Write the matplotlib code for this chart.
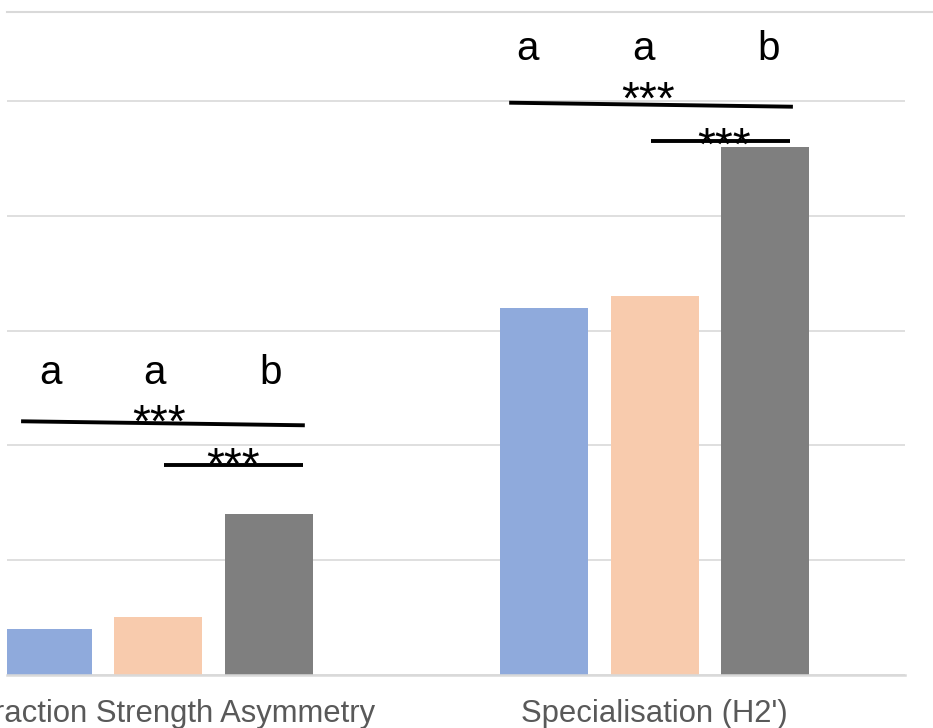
import matplotlib
matplotlib.use("Agg")
import matplotlib.pyplot as plt
from matplotlib.lines import Line2D
import numpy as np

plt.rcParams['font.family'] = ['Liberation Sans', 'DejaVu Sans']

# ---- data ----
categories = ["Interaction Strength Asymmetry", "Specialisation (H2')"]
series_names = ["Group 1", "Group 2", "Group 3"]
series_values = [
    [0.080, 0.639],   # blue
    [0.101, 0.660],   # peach
    [0.281, 0.920],   # grey
]
colors = ["#8FAADC", "#F8CBAD", "#7F7F7F"]
letters = [["a", "a", "b"], ["a", "a", "b"]]
letter_dx = [[0.005, -0.009, 0.005], [-0.035, -0.023, 0.009]]
letter_y = [0.507, 1.071]
# significance brackets: (x0, x1, y0, y1, star_x, star_y)
brackets = [
    (-0.277, 0.295, 0.442, 0.435, 0.001, 0.4146),
    (0.011, 0.291, 0.366, 0.366, 0.150, 0.3397),
    (0.707, 1.279, 0.997, 0.990, 0.986, 0.9774),
    (0.993, 1.273, 0.930, 0.930, 1.141, 0.8972),
]

W, H = 933, 728
fig = plt.figure(figsize=(W / 100, H / 100), dpi=100)
ax_left, ax_right, ax_bot, ax_top = 7, 905, 675, 12
ax = fig.add_axes([ax_left / W, 1 - ax_bot / H, (ax_right - ax_left) / W, (ax_bot - ax_top) / H])

x = np.arange(len(categories))
step = 0.2218
width = 0.1774
for i, (vals, c) in enumerate(zip(series_values, colors)):
    ax.bar(x + (i - 1) * step, vals, width=width, color=c, label=series_names[i], zorder=3)

ax.set_xlim(-0.3054, 1.5050)
ax.set_ylim(0, 1.155)
ax.set_yticks(np.arange(0, 1.01, 0.2))
ax.set_yticklabels([])
ax.tick_params(axis='y', length=0)
ax.grid(axis='y', color='#D9D9D9', linewidth=1.2, zorder=0)
for s in ['top', 'left', 'right']:
    ax.spines[s].set_visible(False)
ax.spines['bottom'].set_color('#D9D9D9')
ax.spines['bottom'].set_linewidth(1.8)
ax.spines['bottom'].set_zorder(4)

ax.set_xticks(x)
ax.set_xticklabels(categories, fontsize=22.3, color='#595959')
ax.tick_params(axis='x', length=0, pad=33.8)
for lab in ax.get_xticklabels():
    lab.set_va('baseline')

# letters
for g in range(len(categories)):
    for i in range(3):
        ax.text(x[g] + (i - 1) * step + letter_dx[g][i], letter_y[g], letters[g][i],
                ha='center', va='baseline', fontsize=29, color='black')

# brackets and stars
for (x0, x1, y0, y1, sx, sy) in brackets:
    ax.plot([x0, x1], [y0, y1], color='black', linewidth=2.8, solid_capstyle='butt',
            clip_on=False, zorder=5)
    ax.text(sx, sy, "***", ha='center', va='baseline', fontsize=33, color='black')

# chart border line at top
fig.add_artist(Line2D([7 / W, 1.0], [1 - 12 / H, 1 - 12 / H], color='#D9D9D9', linewidth=1.5))

fig.savefig("out.png", dpi=100)
